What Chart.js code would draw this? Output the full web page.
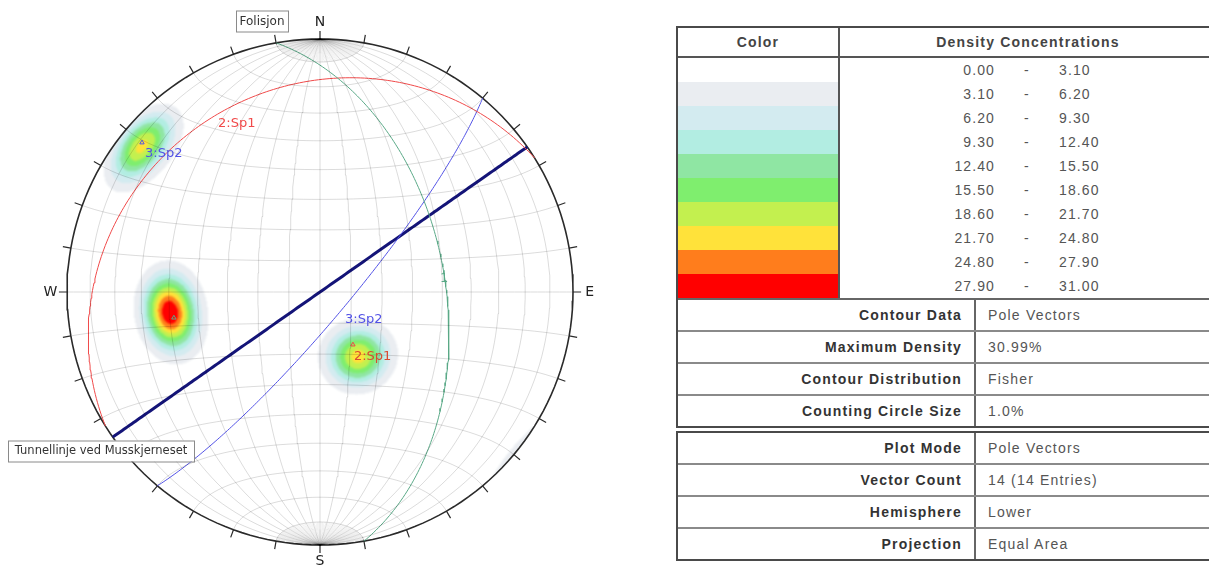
<!DOCTYPE html>
<html>
<head>
<meta charset="utf-8">
<script src="https://cdn.jsdelivr.net/npm/chart.js@4.4.0/dist/chart.umd.min.js"></script>
<style>
html, body { margin: 0; padding: 0; background: #fff; width: 1209px; height: 569px; overflow: hidden; }
#net { position: absolute; left: 0; top: 0; }
.box { position: absolute; left: 676px; width: 538px; border: 2px solid #4a4a4a; font-family: "Liberation Sans", Arial, sans-serif; background: #fff; }
#legend { top: 26px; }
#legend2 { top: 431px; }
.hdr { display: flex; height: 28px; border-bottom: 2px solid #555; font-weight: bold; font-size: 14px; color: #444; line-height: 28px; letter-spacing: 1.2px; }
.hdr .c1 { width: 160px; text-align: center; border-right: 2px solid #555; }
.hdr .c2 { flex: 1; text-align: center; }
.drow { display: flex; height: 24px; line-height: 24px; font-size: 14px; color: #555; letter-spacing: 1.1px; }
.drow .sw { width: 160px; border-right: 2px solid #555; }
.drow .a { display: inline-block; width: 155px; text-align: right; }
.drow .m { display: inline-block; width: 64px; text-align: center; }
.irow { display: flex; height: 30px; line-height: 30px; font-size: 14px; border-top: 2px solid #8a8a8a; }
.irow.first { border-top: none; }
.irow .lab { width: 284px; padding-right: 12px; text-align: right; font-weight: bold; color: #333; border-right: 2px solid #666; letter-spacing: 1.2px; }
.irow .val { padding-left: 12px; color: #555; letter-spacing: 1.2px; }
#info1 .irow.first { border-top: 2px solid #666; }
</style>
</head>
<body>
<canvas id="net" width="640" height="569"></canvas>
<div id="legend" class="box">
  <div class="hdr"><div class="c1">Color</div><div class="c2">Density Concentrations</div></div>
  <div id="densRows"></div>
  <div id="info1"></div>
</div>
<div id="legend2" class="box"><div id="info2"></div></div>
<script>
// poles (trend / plunge, degrees)
const poleTrend  = [255, 258, 261, 264, 266, 269, 149, 152, 154, 143, 309, 311, 311, 306];
const polePlunge = [40, 40, 39, 41, 40, 39, 66, 64, 68, 65, 10, 8, 12, 10];

// planes: dip direction / dip
const planeNames   = ['1', '2:Sp1', '3:Sp2', 'Tunnellinje ved Musskjerneset'];
const planeDipDir  = [80, 328, 130, 145];
const planeDip     = [49, 20, 81, 90];
const planeColors  = ['#5aa987', '#f04a4a', '#5252e6', '#141478'];
const planeWidths  = [1, 1, 1, 3];

const densityLevels = [0, 3.1, 6.2, 9.3, 12.4, 15.5, 18.6, 21.7, 24.8, 27.9, 31.0];
const densityColors = ['#ffffff', '#eaedf1', '#d3ebf0', '#b2ede2', '#8fe6a3', '#7fee6e', '#c3f04f', '#ffe23a', '#ff7d1c', '#ff0000'];
const maxDensity = 30.99;
const kappa = 90;

const compass = ['N', 'E', 'S', 'W'];
const infoLabels1 = ['Contour Data', 'Maximum Density', 'Contour Distribution', 'Counting Circle Size'];
const infoValues1 = ['Pole Vectors', '30.99%', 'Fisher', '1.0%'];
const infoLabels2 = ['Plot Mode', 'Vector Count', 'Hemisphere', 'Projection'];
const infoValues2 = ['Pole Vectors', '14 (14 Entries)', 'Lower', 'Equal Area'];

const D = Math.PI / 180;

// equal area, lower hemisphere (x east, y north, z down)
function proj(v) {
    const s = Math.sqrt(1 + v[2]);
    return { x: v[0] / s, y: v[1] / s };
}
function lineVec(trend, plunge) {
    const t = trend * D, p = plunge * D;
    return [Math.cos(p) * Math.sin(t), Math.cos(p) * Math.cos(t), Math.sin(p)];
}
function netPoint(lam, phi) {
    const l = lam * D, p = phi * D;
    return proj([Math.cos(p) * Math.sin(l), Math.sin(p), Math.cos(p) * Math.cos(l)]);
}
const GAP = { x: null, y: null };

// net grid
const fanPts = [], gridPts = [];
for (let lam = -88; lam <= 88; lam += 2) {
    if (lam % 10 === 0) continue;
    for (const [a, b] of [[80, 90], [-90, -80]]) {
        for (let phi = a; phi <= b; phi += 1) fanPts.push(netPoint(lam, phi));
        fanPts.push(GAP);
    }
}
for (let lam = -80; lam <= 80; lam += 10) {
    for (let phi = -90; phi <= 90; phi += 2) gridPts.push(netPoint(lam, phi));
    gridPts.push(GAP);
}
for (let phi = -80; phi <= 80; phi += 10) {
    for (let lam = -90; lam <= 90; lam += 3) gridPts.push(netPoint(lam, phi));
    gridPts.push(GAP);
}

const primitive = [];
for (let a = 0; a <= 360; a += 2) primitive.push({ x: Math.sin(a * D), y: Math.cos(a * D) });
const ticks = [];
for (let a = 0; a < 360; a += 10) {
    ticks.push({ x: Math.sin(a * D), y: Math.cos(a * D) });
    ticks.push({ x: Math.sin(a * D) * 1.032, y: Math.cos(a * D) * 1.032 });
    ticks.push(GAP);
}

function greatCircle(dd, dip) {
    const s = (dd - 90) * D;
    const h = [Math.sin(s), Math.cos(s), 0];
    const d = lineVec(dd, dip);
    const pts = [];
    for (let t = 0; t <= 180; t += 1) {
        const c = Math.cos(t * D), sn = Math.sin(t * D);
        pts.push(proj([c * h[0] + sn * d[0], c * h[1] + sn * d[1], Math.max(0, c * h[2] + sn * d[2])]));
    }
    return pts;
}
const planePoles = planeDipDir.map((dd, i) => proj(lineVec((dd + 180) % 360, 90 - planeDip[i])));

const datasets = [
    { data: fanPts, borderColor: 'rgba(0,0,0,0.055)', borderWidth: 1 },
    { data: gridPts, borderColor: 'rgba(0,0,0,0.14)', borderWidth: 1 }
];
planeNames.forEach((n, i) => {
    datasets.push({ data: greatCircle(planeDipDir[i], planeDip[i]), borderColor: planeColors[i], borderWidth: planeWidths[i] });
});
datasets.push({ data: primitive, borderColor: '#2a2a2a', borderWidth: 1.6 });
datasets.push({ data: ticks, borderColor: '#2a2a2a', borderWidth: 1.2 });
datasets.push({
    data: planePoles.slice(0, 3), showLine: false, pointRadius: 2.5, pointStyle: 'triangle',
    pointBorderColor: planeColors.slice(0, 3), pointBackgroundColor: 'rgba(0,0,0,0)', pointBorderWidth: 1
});

function hexRgb(h) {
    return [parseInt(h.slice(1, 3), 16), parseInt(h.slice(3, 5), 16), parseInt(h.slice(5, 7), 16)];
}

let densImg = null;
const densityPlugin = {
    id: 'density',
    beforeDatasetsDraw(chart) {
        const { ctx, chartArea: a, scales: { x, y } } = chart;
        const w = Math.round(a.right - a.left), h = Math.round(a.bottom - a.top);
        if (!densImg) {
            const poles = poleTrend.map((t, i) => lineVec(t, polePlunge[i]));
            const vals = new Float32Array(w * h);
            let vmax = 0;
            for (let j = 0; j < h; j++) {
                const Y = y.getValueForPixel(a.top + j + 0.5);
                for (let i = 0; i < w; i++) {
                    const X = x.getValueForPixel(a.left + i + 0.5);
                    const r2 = X * X + Y * Y;
                    if (r2 > 1) { vals[j * w + i] = -1; continue; }
                    const s = Math.sqrt(2 - r2), vx = X * s, vy = Y * s, vz = 1 - r2;
                    let d = 0;
                    for (const p of poles) d += Math.exp(kappa * (Math.abs(vx * p[0] + vy * p[1] + vz * p[2]) - 1));
                    vals[j * w + i] = d;
                    if (d > vmax) vmax = d;
                }
            }
            const rgb = densityColors.map(hexRgb);
            densImg = document.createElement('canvas');
            densImg.width = w; densImg.height = h;
            const octx = densImg.getContext('2d');
            const img = octx.createImageData(w, h);
            for (let k = 0; k < w * h; k++) {
                if (vals[k] < 0) continue;
                const pct = vals[k] / vmax * maxDensity;
                let lv = 0;
                while (lv < densityColors.length - 1 && pct >= densityLevels[lv + 1]) lv++;
                if (lv === 0) continue;
                img.data[k * 4] = rgb[lv][0];
                img.data[k * 4 + 1] = rgb[lv][1];
                img.data[k * 4 + 2] = rgb[lv][2];
                img.data[k * 4 + 3] = 255;
            }
            octx.putImageData(img, 0, 0);
        }
        ctx.save();
        ctx.filter = 'blur(0.8px)';
        ctx.drawImage(densImg, a.left, a.top);
        ctx.restore();
    }
};

function labelBox(ctx, text, cx, cy, w, hgt) {
    ctx.fillStyle = '#fff';
    ctx.fillRect(cx - w / 2, cy - hgt / 2, w, hgt);
    ctx.strokeStyle = '#8a8a8a';
    ctx.lineWidth = 1;
    ctx.strokeRect(cx - w / 2 + 0.5, cy - hgt / 2 + 0.5, w, hgt);
    ctx.fillStyle = '#333';
    ctx.fillText(text, cx, cy + 0.5);
}

const labelsPlugin = {
    id: 'netLabels',
    afterDatasetsDraw(chart) {
        const { ctx, scales: { x, y } } = chart;
        ctx.save();
        ctx.textBaseline = 'middle';
        ctx.textAlign = 'center';
        ctx.font = '14px "DejaVu Sans"';
        ctx.fillStyle = '#222';
        compass.forEach((c, i) => {
            const a = i * 90 * D;
            ctx.fillText(c, x.getPixelForValue(Math.sin(a) * 1.066), y.getPixelForValue(Math.cos(a) * 1.066));
        });

        ctx.font = '12px "DejaVu Sans"';
        labelBox(ctx, 'Folisjon', 262, 21, 52, 21);
        ctx.font = '11.5px "DejaVu Sans"';
        labelBox(ctx, planeNames[3], 101, 451, 186, 21);

        ctx.textAlign = 'left';
        ctx.font = '13px "DejaVu Sans"';
        // plane labels
        ctx.fillStyle = planeColors[0];
        ctx.fillText(planeNames[0], 440, 279);
        ctx.fillStyle = planeColors[1];
        ctx.fillText(planeNames[1], 218, 124);
        ctx.fillStyle = planeColors[2];
        ctx.fillText(planeNames[2], 345, 320);
        // pole labels
        const p2 = planePoles[1], p3 = planePoles[2];
        ctx.fillStyle = '#d84a30';
        ctx.fillText(planeNames[1], x.getPixelForValue(p2.x) + 1, y.getPixelForValue(p2.y) + 12);
        ctx.fillStyle = planeColors[2];
        ctx.fillText(planeNames[2], x.getPixelForValue(p3.x) + 3, y.getPixelForValue(p3.y) + 11);
        ctx.restore();
    }
};

new Chart(document.getElementById('net'), {
    type: 'line',
    data: { datasets },
    options: {
        responsive: false,
        animation: false,
        layout: { padding: { left: 67, right: 67, top: 39, bottom: 24 } },
        scales: {
            x: { type: 'linear', min: -1, max: 1, display: false },
            y: { type: 'linear', min: -1, max: 1, display: false }
        },
        datasets: { line: { clip: false, pointRadius: 0, tension: 0, spanGaps: false, fill: false } },
        plugins: { legend: { display: false }, tooltip: { enabled: false } },
        events: []
    },
    plugins: [densityPlugin, labelsPlugin]
});

// legend tables
const densRows = document.getElementById('densRows');
for (let i = 0; i < densityColors.length; i++) {
    const r = document.createElement('div');
    r.className = 'drow';
    r.innerHTML = '<div class="sw" style="background:' + densityColors[i] + '"></div>' +
        '<div><span class="a">' + densityLevels[i].toFixed(2) + '</span><span class="m">-</span><span>' +
        densityLevels[i + 1].toFixed(2) + '</span></div>';
    densRows.appendChild(r);
}
function infoRows(el, labels, values) {
    labels.forEach((l, i) => {
        const r = document.createElement('div');
        r.className = 'irow' + (i === 0 ? ' first' : '');
        r.innerHTML = '<div class="lab">' + l + '</div><div class="val">' + values[i] + '</div>';
        el.appendChild(r);
    });
}
infoRows(document.getElementById('info1'), infoLabels1, infoValues1);
infoRows(document.getElementById('info2'), infoLabels2, infoValues2);
</script>
</body>
</html>
